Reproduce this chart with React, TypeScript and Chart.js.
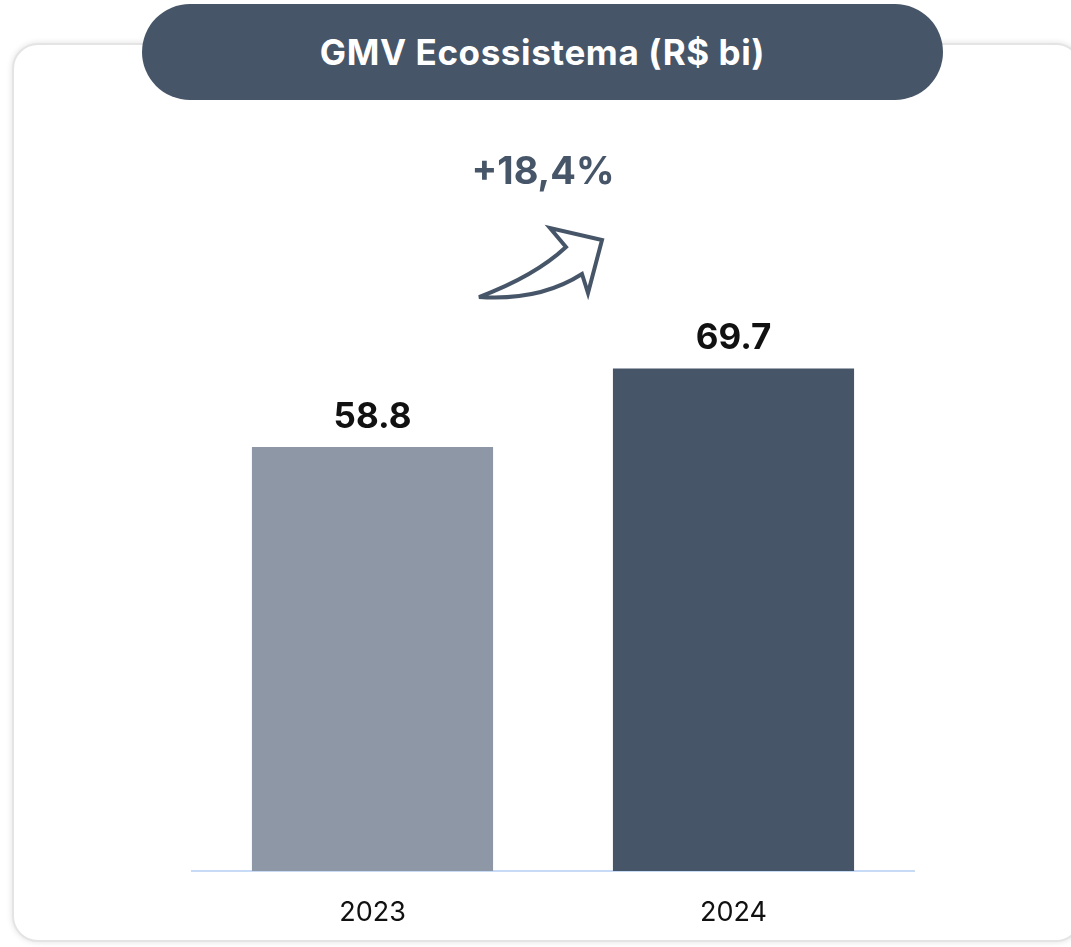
import React, { useEffect, useRef } from "react";
import { Chart, registerables } from "chart.js";

Chart.register(...registerables);

const categories: string[] = ["2023", "2024"];
const gmvValues: number[] = [58.8, 69.7];
const barColors: string[] = ["#8d97a5", "#465568"];
const titleText = "GMV Ecossistema (R$ bi)";
const growthText = "+18,4%";

const FONT = "Inter, 'Liberation Sans', Arial, sans-serif";
const DARK = "#465568";

const valueLabelPlugin = {
  id: "valueLabels",
  afterDatasetsDraw(chart: any) {
    const ctx = chart.ctx;
    const meta = chart.getDatasetMeta(0);
    ctx.save();
    ctx.font = `bold 35px ${FONT}`;
    ctx.fillStyle = "#111111";
    ctx.textAlign = "center";
    ctx.textBaseline = "alphabetic";
    meta.data.forEach((bar: any, i: number) => {
      const v = chart.data.datasets[0].data[i];
      ctx.fillText(String(v), bar.x, bar.y - 19);
    });
    ctx.restore();
  },
};

export default function App() {
  const canvasRef = useRef<HTMLCanvasElement | null>(null);

  useEffect(() => {
    if (!canvasRef.current) return;
    const chart = new Chart(canvasRef.current, {
      type: "bar",
      data: {
        labels: categories,
        datasets: [
          {
            data: gmvValues,
            backgroundColor: barColors,
            borderWidth: 0,
            categoryPercentage: 1,
            barPercentage: 0.668,
          },
        ],
      },
      options: {
        responsive: false,
        animation: false,
        devicePixelRatio: 1,
        layout: { padding: { left: 192, right: 157, top: 150, bottom: 16 } },
        plugins: { legend: { display: false }, tooltip: { enabled: false } },
        scales: {
          x: {
            grid: { display: false, drawTicks: false },
            border: { display: true, color: "#c8dbf6", width: 2 },
            ticks: {
              color: "#111111",
              font: { family: FONT, size: 27 },
              padding: 26,
            },
            afterFit: (s: any) => {
              s.height = 60;
            },
          },
          y: {
            display: false,
            min: 0,
            max: 100,
          },
        },
      },
      plugins: [valueLabelPlugin],
    });
    return () => chart.destroy();
  }, []);

  return (
    <div
      style={{
        position: "fixed",
        left: 0,
        top: 0,
        width: 1071,
        height: 947,
        background: "#ffffff",
        overflow: "hidden",
        fontFamily: FONT,
      }}
    >
      <div
        style={{
          position: "absolute",
          left: 12,
          top: 43,
          width: 1070,
          height: 899,
          border: "2px solid #e4e4e4",
          borderRadius: 26,
          boxShadow: "0 0 6px rgba(0,0,0,0.12)",
          boxSizing: "border-box",
          background: "#ffffff",
        }}
      />
      <canvas
        ref={canvasRef}
        width={1071}
        height={947}
        style={{ position: "absolute", left: 0, top: 0, width: 1071, height: 947 }}
      />
      <div
        style={{
          position: "absolute",
          left: 142,
          top: 4,
          width: 801,
          height: 96,
          borderRadius: 48,
          background: DARK,
          color: "#ffffff",
          fontWeight: 700,
          fontSize: 35,
          letterSpacing: 0.6,
          display: "flex",
          alignItems: "center",
          justifyContent: "center",
        }}
      >
        {titleText}
      </div>
      <div
        style={{
          position: "absolute",
          left: 343,
          width: 400,
          top: 146,
          height: 48,
          textAlign: "center",
          color: DARK,
          fontWeight: 700,
          fontSize: 38,
          lineHeight: "48px",
        }}
      >
        {growthText}
      </div>
      <svg
        width={1071}
        height={947}
        style={{ position: "absolute", left: 0, top: 0, pointerEvents: "none" }}
      >
        <path
          d="M479,297 Q535,276 566,247 L550,228 L602,240 L588,293 L582,274 Q540,301 479,297 Z"
          fill="#ffffff"
          stroke={DARK}
          strokeWidth={4}
          strokeLinejoin="miter"
        />
      </svg>
    </div>
  );
}
